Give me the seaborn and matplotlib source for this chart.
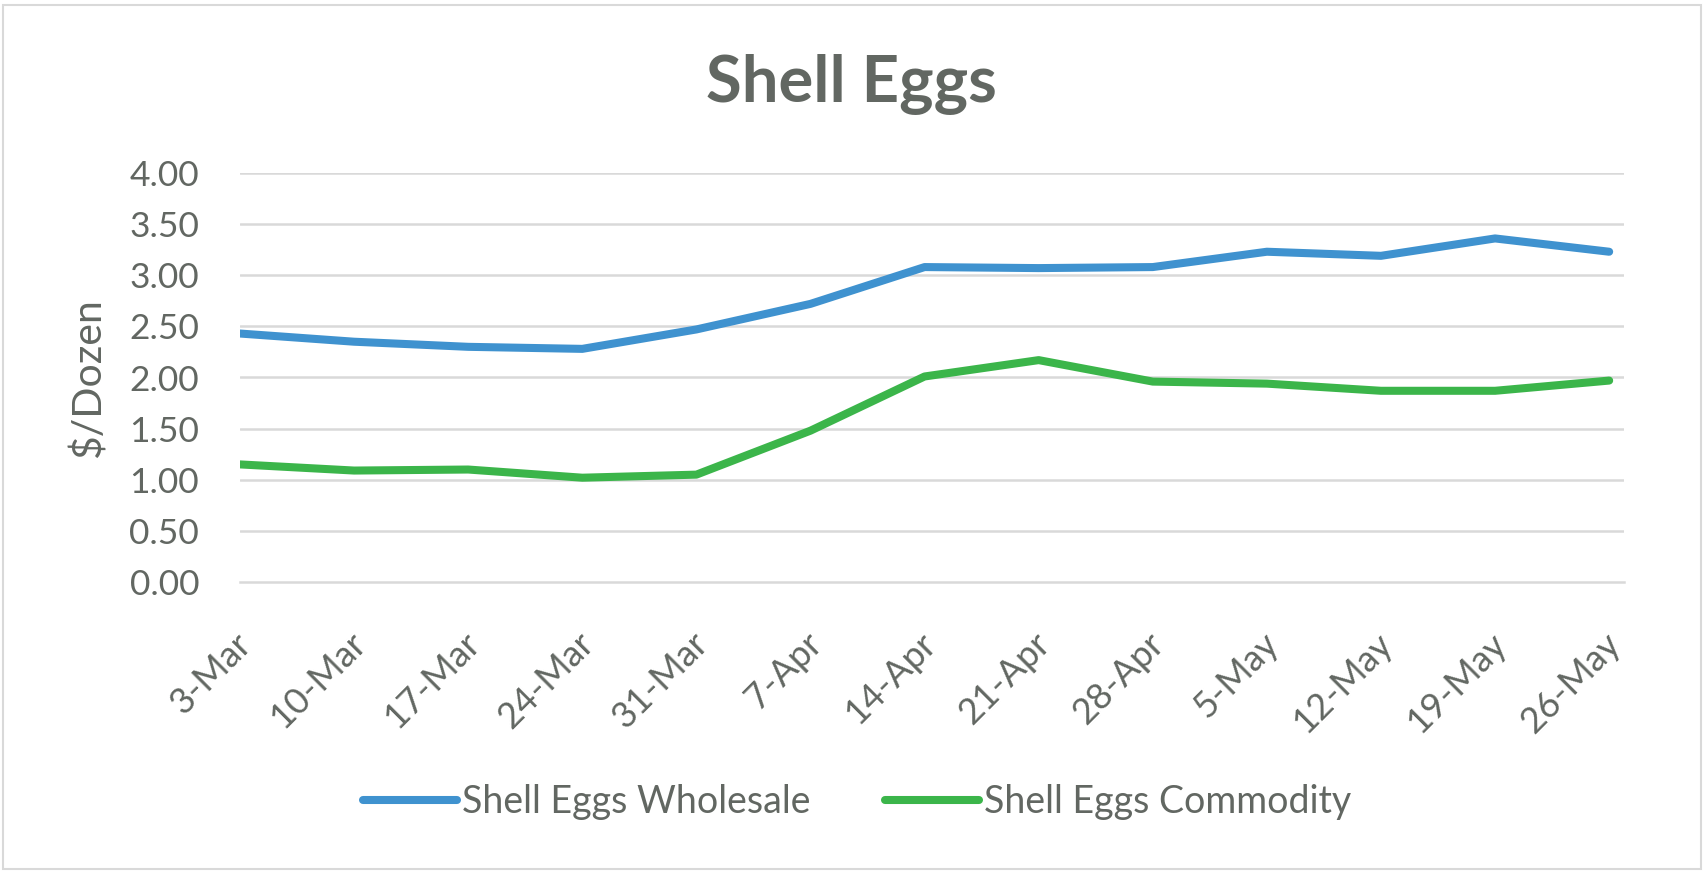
import numpy as np
import pandas as pd
import seaborn as sns
import matplotlib
matplotlib.use("Agg")
import matplotlib.pyplot as plt
from matplotlib.patches import Rectangle
from matplotlib.transforms import ScaledTranslation

# ---- data ----
dates = ["3-Mar", "10-Mar", "17-Mar", "24-Mar", "31-Mar", "7-Apr", "14-Apr",
         "21-Apr", "28-Apr", "5-May", "12-May", "19-May", "26-May"]
wholesale = [2.43, 2.35, 2.30, 2.28, 2.47, 2.72, 3.08, 3.07, 3.08, 3.23, 3.19, 3.36, 3.23]
commodity = [1.15, 1.09, 1.10, 1.02, 1.05, 1.48, 2.01, 2.17, 1.96, 1.94, 1.87, 1.87, 1.97]
series_names = ["Shell Eggs Wholesale", "Shell Eggs Commodity"]
yticks = [0.0, 0.5, 1.0, 1.5, 2.0, 2.5, 3.0, 3.5, 4.0]

df = pd.DataFrame({
    "idx": list(range(len(dates))) * 2,
    "price": wholesale + commodity,
    "series": [series_names[0]] * len(dates) + [series_names[1]] * len(dates),
})

TXT = "#626762"
GRID = "#d9d9d9"
BLUE = "#3f92cf"
GREEN = "#3bb54a"
LW = 5.8

sns.set_theme(style="white")
plt.rcParams["font.family"] = ["Lato", "DejaVu Sans"]

W, H, DPI = 1705, 880, 100
fig = plt.figure(figsize=(W / DPI, H / DPI), dpi=DPI)
ax = fig.add_axes([240 / W, 1 - 582 / H, (1624 - 240) / W, (582 - 173) / H])

sns.lineplot(data=df, x="idx", y="price", hue="series", hue_order=series_names,
             palette=[BLUE, GREEN], linewidth=LW, ax=ax, legend=False,
             solid_capstyle="round", solid_joinstyle="round", sort=False)

ax.set_xlim(0, 12.13)
ax.set_ylim(0, 4)
ax.set_yticks(yticks)
ax.set_yticklabels([f"{v:.2f}" for v in yticks])
ax.set_xticks(range(len(dates)))
ax.set_xticklabels(dates)
ax.set_xlabel("")
ax.set_ylabel("")

for v in yticks[1:]:
    ax.axhline(v, color=GRID, lw=1.8, zorder=0)

for s in ["left", "right", "top"]:
    ax.spines[s].set_visible(False)
ax.spines["bottom"].set_color(GRID)
ax.spines["bottom"].set_linewidth(1.8)
ax.spines["bottom"].set_zorder(0.5)

ax.tick_params(axis="y", length=0, pad=29.5, labelsize=25.5, labelcolor=TXT)
ax.tick_params(axis="x", length=8.6, width=1.8, color=GRID, direction="out",
               pad=32, labelsize=26, labelcolor=TXT)
off = ScaledTranslation(6 / DPI, 0, fig.dpi_scale_trans)
for lab in ax.get_xticklabels():
    lab.set_rotation(45)
    lab.set_ha("right")
    lab.set_va("center")
    lab.set_rotation_mode("anchor")
    lab.set_transform(lab.get_transform() + off)

fig.text(89 / W, 1 - 378 / H, "$/Dozen", rotation=90, ha="center", va="center",
         fontsize=29.5, color=TXT)

fig.text(851 / W, 1 - 102 / H, "Shell Eggs", ha="center", va="baseline",
         fontsize=47, fontweight="bold", color=TXT)

handles = [plt.Line2D([], [], color=c, lw=LW, solid_capstyle="round") for c in [BLUE, GREEN]]
leg = fig.legend(handles, series_names, loc="center", bbox_to_anchor=(857 / W, 1 - 802 / H),
                 ncol=2, frameon=False, fontsize=27, handlelength=2.5, handletextpad=0.13,
                 columnspacing=2.0, borderpad=0, labelcolor=TXT)

fig.patches.append(Rectangle((3 / W, 1 - 869 / H), (1701 - 3) / W, (869 - 5) / H,
                             transform=fig.transFigure, fill=False, edgecolor=GRID,
                             linewidth=1.5))

fig.savefig("out.png", dpi=DPI, facecolor="white")
